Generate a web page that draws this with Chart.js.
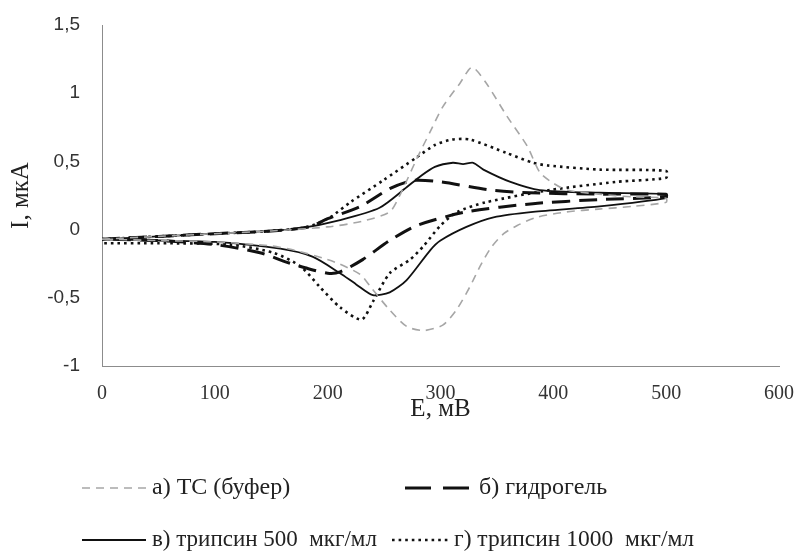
<!DOCTYPE html>
<html>
<head>
<meta charset="utf-8">
<script src="https://cdn.jsdelivr.net/npm/chart.js@4.4.1/dist/chart.umd.min.js"></script>
<style>
    body { margin: 0; background: #fff; }
    #wrap { width: 798px; height: 560px; position: relative; }
</style>
</head>
<body>
<div id="wrap"><canvas id="cvChart"></canvas></div>
<script>
// scan data: forward branch 0 -> 500 mV, then back 500 -> 0 mV
var seriesNames = ['а) ТС (буфер)', 'б) гидрогель', 'в) трипсин 500  мкг/мл', 'г) трипсин 1000  мкг/мл'];

var bufferE = [0, 50, 100, 150, 200, 230, 255, 265, 279, 291, 302, 317, 328, 340, 359, 377, 388, 400, 412, 440, 470, 500,
    500, 470, 440, 412, 385, 368, 356, 345, 335, 326, 314, 302, 285, 270, 255, 238, 229, 210, 196, 170, 150, 100, 50, 0];
var bufferI = [-0.07, -0.05, -0.03, -0.01, 0.02, 0.06, 0.13, 0.27, 0.52, 0.72, 0.90, 1.07, 1.19, 1.08, 0.83, 0.61, 0.42, 0.34, 0.29, 0.26, 0.24, 0.23,
    0.20, 0.17, 0.15, 0.13, 0.09, 0.03, -0.03, -0.13, -0.27, -0.42, -0.59, -0.70, -0.74, -0.71, -0.59, -0.42, -0.33, -0.25, -0.21, -0.15, -0.12, -0.09, -0.08, -0.07];

var gelE = [0, 50, 100, 150, 184, 200, 229, 255, 276, 300, 344, 379, 440, 500,
    500, 440, 382, 323, 279, 255, 231, 211, 200, 180, 164, 140, 100, 50, 0];
var gelI = [-0.07, -0.05, -0.03, -0.01, 0.02, 0.08, 0.17, 0.30, 0.36, 0.35, 0.29, 0.27, 0.26, 0.26,
    0.24, 0.22, 0.19, 0.13, 0.03, -0.08, -0.22, -0.31, -0.32, -0.28, -0.24, -0.17, -0.11, -0.08, -0.07];

var tryp500E = [0, 50, 100, 150, 176, 211, 246, 270, 282, 295, 311, 320, 329, 338, 362, 388, 441, 500,
    500, 441, 382, 347, 323, 300, 291, 270, 255, 240, 225, 211, 187, 158, 100, 50, 0];
var tryp500I = [-0.07, -0.05, -0.03, -0.01, 0.01, 0.07, 0.16, 0.31, 0.39, 0.46, 0.49, 0.48, 0.49, 0.44, 0.35, 0.29, 0.27, 0.26,
    0.23, 0.17, 0.13, 0.09, 0.02, -0.08, -0.15, -0.37, -0.46, -0.48, -0.40, -0.32, -0.20, -0.14, -0.09, -0.08, -0.07];

var tryp1000E = [0, 50, 100, 150, 182, 202, 220, 249, 279, 295, 310, 326, 359, 382, 395, 441, 500,
    500, 456, 397, 340, 315, 300, 285, 273, 255, 240, 230, 211, 193, 176, 152, 113, 50, 0];
var tryp1000I = [-0.07, -0.05, -0.03, -0.01, 0.02, 0.09, 0.20, 0.36, 0.53, 0.62, 0.66, 0.66, 0.56, 0.49, 0.47, 0.44, 0.43,
    0.38, 0.35, 0.29, 0.20, 0.13, 0.03, -0.12, -0.22, -0.32, -0.53, -0.66, -0.57, -0.42, -0.27, -0.17, -0.11, -0.10, -0.10];

var xTicks = [0, 100, 200, 300, 400, 500, 600];
var yTicks = [-1, -0.5, 0, 0.5, 1, 1.5];

function toPoints(xs, ys) {
    return xs.map(function (x, i) {
        return {x: x, y: ys[i]};
    });
}

// where each legend entry sits (left of sample line, text middle)
var legendSlots = [
    {x: 82, y: 488, w: 64, font: 24},
    {x: 405, y: 488, w: 68, font: 24, dash: [26, 12]},
    {x: 82, y: 540, w: 64, font: 23},
    {x: 392, y: 540, w: 56, font: 23.5}
];

var bottomLegend = {
    id: 'bottomLegend',
    afterDraw: function (chart) {
        var ctx = chart.ctx;
        ctx.save();
        chart.data.datasets.forEach(function (ds, i) {
            var s = legendSlots[i];
            ctx.beginPath();
            ctx.strokeStyle = ds.borderColor;
            ctx.lineWidth = ds.borderWidth;
            ctx.setLineDash(s.dash || ds.borderDash || []);
            ctx.moveTo(s.x, s.y);
            ctx.lineTo(s.x + s.w, s.y);
            ctx.stroke();
            ctx.setLineDash([]);
            ctx.fillStyle = '#222';
            ctx.font = s.font + 'px "Liberation Serif"';
            ctx.textBaseline = 'middle';
            ctx.fillText(ds.label, s.x + s.w + 6, s.y);
        });
        ctx.restore();
    }
};

var ctx = document.getElementById('cvChart').getContext('2d');
var cvChart = new Chart(ctx, {
    type: 'scatter',
    data: {
        datasets: [
            {
                label: seriesNames[0],
                data: toPoints(bufferE, bufferI),
                borderColor: '#a6a6a6',
                borderWidth: 1.6,
                borderDash: [8, 6]
            },
            {
                label: seriesNames[1],
                data: toPoints(gelE, gelI),
                borderColor: '#111',
                borderWidth: 3,
                borderDash: [18, 9]
            },
            {
                label: seriesNames[2],
                data: toPoints(tryp500E, tryp500I),
                borderColor: '#111',
                borderWidth: 1.8
            },
            {
                label: seriesNames[3],
                data: toPoints(tryp1000E, tryp1000I),
                borderColor: '#111',
                borderWidth: 2.6,
                borderDash: [2.6, 4]
            }
        ]
    },
    options: {
        responsive: true,
        maintainAspectRatio: false,
        animation: false,
        showLine: true,
        elements: {
            point: {radius: 0, hoverRadius: 0},
            line: {tension: 0.25, fill: false}
        },
        layout: {padding: {left: 0, right: 19, top: 25, bottom: 134}},
        plugins: {
            legend: {display: false},
            tooltip: {enabled: false}
        },
        scales: {
            x: {
                type: 'linear',
                min: 0,
                max: 600,
                afterBuildTicks: function (scale) {
                    scale.ticks = xTicks.map(function (v) { return {value: v}; });
                },
                afterFit: function (scale) {
                    scale.height = 60;
                    scale.paddingLeft = 0;
                    scale.paddingRight = 0;
                },
                grid: {display: false, drawTicks: false},
                border: {display: true, color: '#8c8c8c', width: 1},
                ticks: {
                    padding: 16,
                    color: '#333',
                    font: {family: 'Liberation Serif', size: 20}
                },
                title: {
                    display: true,
                    text: 'E, мВ',
                    color: '#222',
                    padding: {top: 0, bottom: 2},
                    font: {family: 'Liberation Serif', size: 25}
                }
            },
            y: {
                type: 'linear',
                min: -1,
                max: 1.5,
                afterBuildTicks: function (scale) {
                    scale.ticks = yTicks.map(function (v) { return {value: v}; });
                },
                afterFit: function (scale) {
                    scale.width = 102;
                    scale.paddingTop = 0;
                    scale.paddingBottom = 0;
                },
                grid: {display: false, drawTicks: false},
                border: {display: true, color: '#8c8c8c', width: 1},
                ticks: {
                    padding: 22,
                    color: '#333',
                    font: {family: 'Liberation Sans', size: 19},
                    callback: function (v) {
                        return String(v).replace('.', ',');
                    }
                },
                title: {
                    display: true,
                    text: 'I, мкА',
                    color: '#222',
                    padding: {top: 6, bottom: 0},
                    font: {family: 'Liberation Serif', size: 25}
                }
            }
        }
    },
    plugins: [bottomLegend]
});
</script>
</body>
</html>
